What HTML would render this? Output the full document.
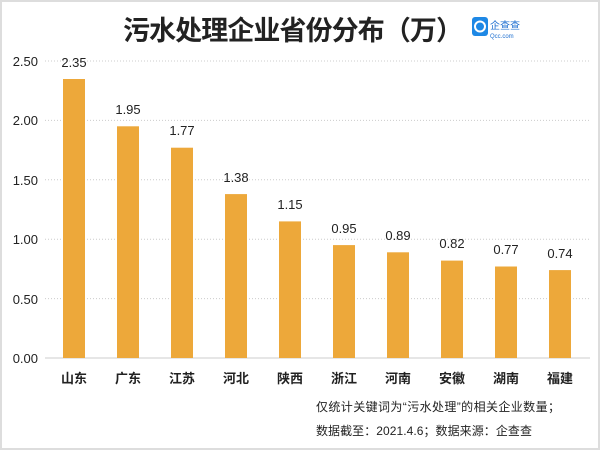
<!DOCTYPE html>
<html><head><meta charset="utf-8"><style>
body{margin:0;width:600px;height:450px;overflow:hidden;background:#fff;font-family:"Liberation Sans","Noto Sans CJK SC",sans-serif}
</style></head><body>
<svg width="600" height="450" xmlns="http://www.w3.org/2000/svg" font-family="Liberation Sans, Noto Sans CJK SC, sans-serif">
<rect x="1" y="1" width="598" height="448" fill="#fff" stroke="#ddd" stroke-width="2"/>
<text x="293" y="40" text-anchor="middle" font-size="27" font-weight="bold" fill="#222" textLength="340">污水处理企业省份分布（万）</text>
<rect x="472" y="17" width="16" height="19" rx="3" fill="#1e88e5"/>
<circle cx="480" cy="26.5" r="5" fill="none" stroke="#fff" stroke-width="2"/>
<text x="490" y="29" font-size="10" fill="#1e6fd0">企查查</text>
<text x="490" y="38" font-size="6" fill="#1e6fd0">Qcc.com</text>
<g stroke="#ccc" stroke-dasharray="1,2" stroke-width="1">
<line x1="45" y1="61" x2="590" y2="61"/><line x1="45" y1="120.4" x2="590" y2="120.4"/><line x1="45" y1="179.8" x2="590" y2="179.8"/><line x1="45" y1="239.2" x2="590" y2="239.2"/><line x1="45" y1="298.6" x2="590" y2="298.6"/>
</g>
<line x1="45" y1="358" x2="590" y2="358" stroke="#ccc"/>
<g font-size="13" fill="#222" text-anchor="end">
<text x="38" y="66">2.50</text><text x="38" y="125">2.00</text><text x="38" y="185">1.50</text><text x="38" y="244">1.00</text><text x="38" y="304">0.50</text><text x="38" y="363">0.00</text>
</g>
<g font-size="13" fill="#222" text-anchor="middle">
<rect x="63" y="79.0" width="22" height="279.0" fill="#EDA83A"/><text x="74" y="67">2.35</text><text x="74" y="383" font-weight="bold">山东</text>
<rect x="117" y="126.3" width="22" height="231.7" fill="#EDA83A"/><text x="128" y="114">1.95</text><text x="128" y="383" font-weight="bold">广东</text>
<rect x="171" y="147.7" width="22" height="210.3" fill="#EDA83A"/><text x="182" y="135">1.77</text><text x="182" y="383" font-weight="bold">江苏</text>
<rect x="225" y="194.1" width="22" height="163.9" fill="#EDA83A"/><text x="236" y="182">1.38</text><text x="236" y="383" font-weight="bold">河北</text>
<rect x="279" y="221.4" width="22" height="136.6" fill="#EDA83A"/><text x="290" y="209">1.15</text><text x="290" y="383" font-weight="bold">陕西</text>
<rect x="333" y="245.1" width="22" height="112.9" fill="#EDA83A"/><text x="344" y="233">0.95</text><text x="344" y="383" font-weight="bold">浙江</text>
<rect x="387" y="252.3" width="22" height="105.7" fill="#EDA83A"/><text x="398" y="240">0.89</text><text x="398" y="383" font-weight="bold">河南</text>
<rect x="441" y="260.6" width="22" height="97.4" fill="#EDA83A"/><text x="452" y="248">0.82</text><text x="452" y="383" font-weight="bold">安徽</text>
<rect x="495" y="266.5" width="22" height="91.5" fill="#EDA83A"/><text x="506" y="254">0.77</text><text x="506" y="383" font-weight="bold">湖南</text>
<rect x="549" y="270.1" width="22" height="87.9" fill="#EDA83A"/><text x="560" y="258">0.74</text><text x="560" y="383" font-weight="bold">福建</text>
</g>
<text x="316" y="411" font-size="12" fill="#222" textLength="244">仅统计关键词为“污水处理”的相关企业数量；</text>
<text x="316" y="435" font-size="12" fill="#222" textLength="216">数据截至：2021.4.6；数据来源：企查查</text>
</svg>
</body></html>
